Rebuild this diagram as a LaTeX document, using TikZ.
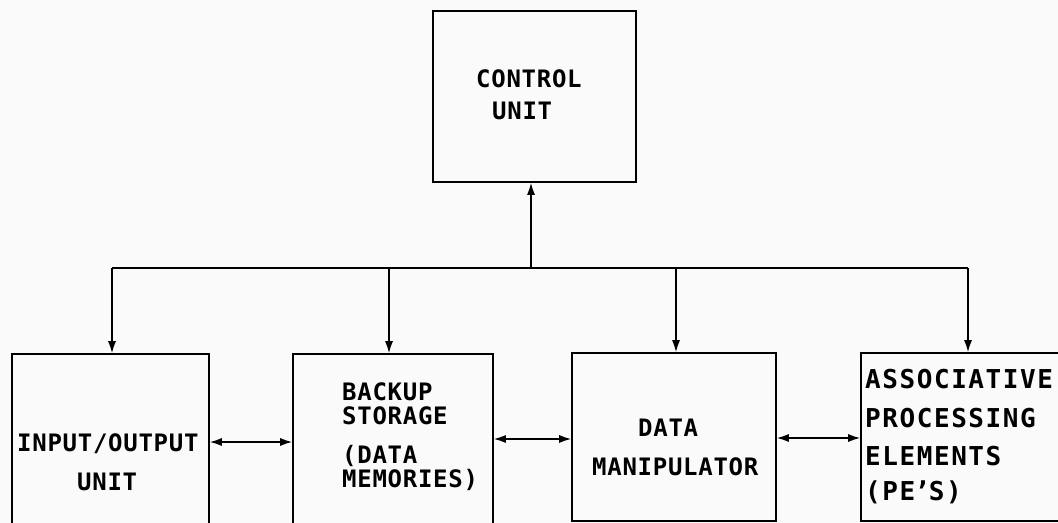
\documentclass[tikz,border=0pt]{standalone}
\usepackage{fontspec}
\usetikzlibrary{arrows.meta}
\newfontfamily\tw[LetterSpace=3]{DejaVu Sans Mono Bold}
\newfontfamily\twb[LetterSpace=6]{DejaVu Sans Mono Bold}
\begin{document}
\begin{tikzpicture}[x=1bp,y=-1bp,
  blk/.style={draw, line width=1.6bp, rectangle, inner sep=0pt},
  wire/.style={line width=1.5bp},
  tip/.style={-{Latex[length=12bp,width=8bp]}},
  bitip/.style={{Latex[length=12bp,width=8bp]}-{Latex[length=12bp,width=8bp]}},
  txt/.style={anchor=base west, inner sep=0pt, font=\tw\fontsize{24bp}{24bp}\selectfont},
  txtb/.style={anchor=base west, inner sep=0pt, font=\twb\fontsize{26bp}{26bp}\selectfont}]
\useasboundingbox (0,0) rectangle (1058,523);
\fill[black!2] (0,0) rectangle (1058,523);
\clip (0,0) rectangle (1058,523);
% boxes
\node[blk, minimum width=203bp, minimum height=171bp] (cu) at (534.5,96.5) {};
\node[blk, minimum width=197bp, minimum height=266bp] (io) at (110.5,487) {};
\node[blk, minimum width=200bp, minimum height=266bp] (bs) at (393,487) {};
\node[blk, minimum width=204bp, minimum height=168bp] (dm) at (674,437) {};
\node[blk, minimum width=219bp, minimum height=168bp] (pe) at (970.5,437) {};
% texts
\node[txt] (cu1) at (476,88) {CONTROL};
\node[txt] (cu2) at (492,120) {UNIT};
\node[txt] (io1) at (17,451) {INPUT/OUTPUT};
\node[txt] (io2) at (77,490) {UNIT};
\node[txt] (bs1) at (342,400) {BACKUP};
\node[txt] (bs2) at (342,424) {STORAGE};
\node[txt] (bs3) at (342,463) {(DATA};
\node[txt] (bs4) at (342,487) {MEMORIES)};
\node[txt] (dm1) at (638,436) {DATA};
\node[txt] (dm2) at (592,475) {MANIPULATOR};
\node[txtb] (pe1) at (865,388) {ASSOCIATIVE};
\node[txtb] (pe2) at (865,427) {PROCESSING};
\node[txtb] (pe3) at (865,465) {ELEMENTS};
\node[txtb] (pe4) at (865,500) {(PE\kern-1bp\char"2019\kern-1bp S)};
% bus
\coordinate (j1) at (112,268);
\coordinate (j2) at (389,268);
\coordinate (jc) at (531,268);
\coordinate (j3) at (676,268);
\coordinate (j4) at (968,268);
\draw[wire] (j1) -- (j4);
\draw[wire,tip] (jc) -- (cu.south -| jc);
\draw[wire,tip] (j1) -- (io.north -| j1);
\draw[wire,tip] (j2) -- (bs.north -| j2);
\draw[wire,tip] (j3) -- (dm.north -| j3);
\draw[wire,tip] (j4) -- (pe.north -| j4);
% data paths
\coordinate (h1) at (0,442);
\coordinate (h2) at (0,439);
\coordinate (h3) at (0,438);
\draw[wire,bitip] (io.east |- h1) -- (bs.west |- h1);
\draw[wire,bitip] (bs.east |- h2) -- (dm.west |- h2);
\draw[wire,bitip] (dm.east |- h3) -- (pe.west |- h3);
\end{tikzpicture}
\end{document}
